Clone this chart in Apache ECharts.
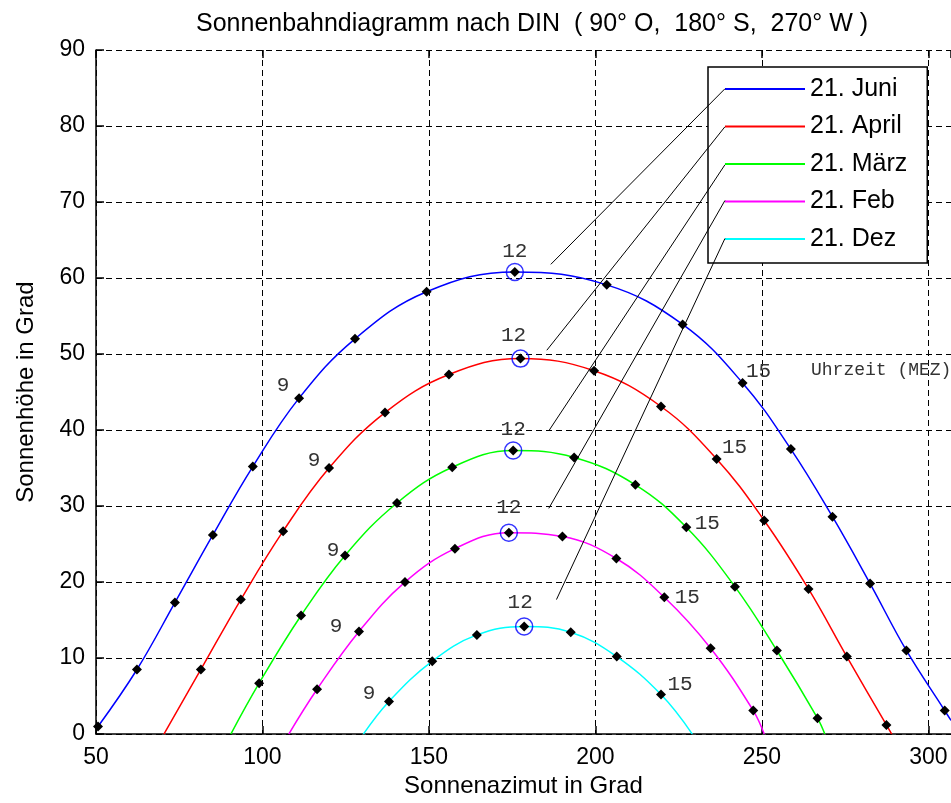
<!DOCTYPE html>
<html>
<head>
<meta charset="utf-8">
<title>Sonnenbahndiagramm</title>
<script src="https://cdn.jsdelivr.net/npm/echarts@6/dist/echarts.min.js"></script>
<style>
  html, body { margin: 0; padding: 0; background: #fff; }
  #chart { width: 951px; height: 803px; }
</style>
</head>
<body>
<div id="chart"></div>
<script>
// Stunde (MEZ) je Punkt; null = Auf-/Untergang bzw. Bildrand, ohne Marker
var juniHour  = [4, 5, 6, 7, 8, 9, 10, 11, 12, 13, 14, 15, 16, 17, 18, 19, 20, null];
var juniAz    = [50.6, 62.3, 73.7, 85.1, 97.1, 111.0, 127.8, 149.3, 175.8, 203.4, 226.2, 244.2, 258.7, 271.2, 282.5, 293.4, 304.9, 306.8];
var juniAlt   = [1.0, 8.5, 17.3, 26.2, 35.2, 44.2, 52.0, 58.2, 60.8, 59.1, 53.9, 46.2, 37.5, 28.6, 19.8, 11.0, 3.1, 1.8];

var aprilHour = [null, 6, 7, 8, 9, 10, 11, 12, 13, 14, 15, 16, 17, 18, 19, null];
var aprilAz   = [70.4, 81.5, 93.5, 106.2, 120.0, 136.8, 156.0, 177.5, 199.6, 219.7, 236.4, 250.7, 264.0, 275.5, 287.4, 289.0];
var aprilAlt  = [0, 8.5, 17.7, 26.7, 35.0, 42.3, 47.3, 49.4, 47.8, 43.1, 36.2, 28.1, 19.1, 10.2, 1.2, 0];

var maerzHour = [null, 7, 8, 9, 10, 11, 12, 13, 14, 15, 16, 17, 18, null];
var maerzAz   = [90.5, 99.0, 111.6, 124.8, 140.4, 157.0, 175.3, 193.6, 212.0, 227.3, 241.9, 254.5, 266.7, 268.9];
var maerzAlt  = [0, 6.7, 15.6, 23.5, 30.4, 35.1, 37.3, 36.4, 32.8, 27.2, 19.4, 11.0, 2.1, 0];

var febHour   = [null, 8, 9, 10, 11, 12, 13, 14, 15, 16, 17, null];
var febAz     = [107.9, 116.4, 129.0, 142.8, 157.8, 174.0, 190.1, 206.3, 220.7, 234.6, 247.4, 250.7];
var febAlt    = [0, 5.9, 13.5, 20.0, 24.4, 26.5, 26.0, 23.1, 18.0, 11.3, 3.1, 0];

var dezHour   = [null, 9, 10, 11, 12, 13, 14, 15, null];
var dezAz     = [130.3, 138.0, 151.0, 164.4, 178.6, 192.6, 206.4, 219.7, 229.1];
var dezAlt    = [0, 4.3, 9.6, 13.05, 14.15, 13.4, 10.2, 5.2, 0];

// Hinweislinien von der Legende zu den Kurven (Azimut, Höhe)
var leaderFrom = [[238.9, 84.9], [238.9, 79.9], [238.9, 74.9], [238.9, 70.2], [238.9, 65.2]];
var leaderTo   = [[186.6, 61.8], [185.4, 50.5], [186.0, 39.9], [186.0, 29.7], [188.3, 17.7]];

var xTicks = [50, 100, 150, 200, 250, 300];
var yTicks = [0, 10, 20, 30, 40, 50, 60, 70, 80, 90];
var labelHours = [9, 12, 15];

var curves = [
  { name: '21. Juni',  color: '#0000ff', az: juniAz,  alt: juniAlt,  hour: juniHour,  off: { 9: [-16, -13], 12: [0, -21], 15: [16, -11] } },
  { name: '21. April', color: '#ff0000', az: aprilAz, alt: aprilAlt, hour: aprilHour, off: { 9: [-15, -8],  12: [-7, -23], 15: [18, -12] } },
  { name: '21. März',  color: '#00ff00', az: maerzAz, alt: maerzAlt, hour: maerzHour, off: { 9: [-12, -5],  12: [0, -21], 15: [21, -4] } },
  { name: '21. Feb',   color: '#ff00ff', az: febAz,   alt: febAlt,   hour: febHour,   off: { 9: [-23, -5],  12: [0, -25], 15: [23, 0] } },
  { name: '21. Dez',   color: '#00ffff', az: dezAz,   alt: dezAlt,   hour: dezHour,   off: { 9: [-20, -8],  12: [-4, -24], 15: [19, -10] } }
];

var hourFont = { fontFamily: 'Liberation Mono', fontSize: 21, color: '#333' };

var series = [];
var noon = [];
curves.forEach(function (c) {
  var data = c.az.map(function (x, i) {
    var h = c.hour[i];
    var item = { value: [x, c.alt[i]] };
    if (h === null) item.symbol = 'none';
    if (labelHours.indexOf(h) >= 0) {
      item.label = {
        show: true, position: 'inside', offset: c.off[h], formatter: String(h),
        fontFamily: hourFont.fontFamily, fontSize: hourFont.fontSize, color: hourFont.color,
        textBorderWidth: 0
      };
    }
    if (h === 12) noon.push([x, c.alt[i]]);
    return item;
  });
  series.push({
    name: c.name,
    type: 'line',
    data: data,
    smooth: 0.4,
    symbol: 'diamond',
    symbolSize: 10,
    showAllSymbol: true,
    lineStyle: { color: c.color, width: 1.5 },
    itemStyle: { color: '#000' },
    label: { show: false },
    z: 3,
    emphasis: { disabled: true },
    silent: true
  });
});

series.push({
  name: 'noon',
  type: 'scatter',
  data: noon,
  symbol: 'circle',
  symbolSize: 17,
  itemStyle: { color: 'rgba(0,0,0,0)', borderColor: '#0000ff', borderWidth: 1.5 },
  z: 4,
  silent: true
});

leaderFrom.forEach(function (p, i) {
  series.push({
    name: 'leader' + i,
    type: 'line',
    data: [p, leaderTo[i]],
    symbol: 'none',
    lineStyle: { color: '#000', width: 1 },
    z: 10,
    silent: true
  });
});

var chart = echarts.init(document.getElementById('chart'));
chart.setOption({
  animation: false,
  backgroundColor: '#fff',
  textStyle: { fontFamily: 'Liberation Sans, Arial, sans-serif' },
  title: {
    text: 'Sonnenbahndiagramm nach DIN  ( 90° O,  180° S,  270° W )',
    left: 527,
    textAlign: 'center',
    top: 7,
    textStyle: { fontSize: 25, fontWeight: 'normal', color: '#000' }
  },
  grid: { left: 96, right: 0, top: 50, bottom: 68 },
  legend: {
    data: curves.map(function (c) { return { name: c.name, itemStyle: { color: c.color } }; }),
    orient: 'vertical',
    left: 708,
    top: 67,
    padding: [9, 20, 11, 17],
    itemGap: 11.5,
    itemWidth: 80,
    itemHeight: 2,
    icon: 'rect',
    backgroundColor: '#fff',
    borderColor: '#000',
    borderWidth: 1.5,
    borderRadius: 0,
    selectedMode: false,
    textStyle: { fontSize: 25, color: '#000', lineHeight: 26 }
  },
  graphic: [{
    type: 'text',
    left: 811,
    top: 361,
    style: { text: 'Uhrzeit (MEZ)', fontFamily: 'Liberation Mono', fontSize: 18, fill: '#333' },
    z: 5
  }],
  xAxis: [{
    type: 'value',
    min: xTicks[0],
    max: 306.8,
    interval: 50,
    name: 'Sonnenazimut in Grad',
    nameLocation: 'middle',
    nameGap: 38,
    nameTextStyle: { fontSize: 24, color: '#000' },
    axisLine: { show: true, lineStyle: { color: '#000', width: 1.5 } },
    axisTick: { show: true, inside: true, length: 8, lineStyle: { color: '#000', width: 1.5 } },
    axisLabel: { fontSize: 23, color: '#000', margin: 12, showMaxLabel: false },
    splitLine: { show: true, lineStyle: { color: '#000', width: 1, type: [6, 4] } }
  }, {
    type: 'value',
    position: 'top',
    min: xTicks[0],
    max: 306.8,
    interval: 50,
    axisLine: { show: false },
    axisTick: { show: true, inside: true, length: 8, lineStyle: { color: '#000', width: 1.5 } },
    axisLabel: { show: false },
    splitLine: { show: false }
  }],
  yAxis: {
    type: 'value',
    min: yTicks[0],
    max: yTicks[yTicks.length - 1],
    interval: 10,
    name: 'Sonnenhöhe in Grad',
    nameLocation: 'middle',
    nameGap: 58,
    nameTextStyle: { fontSize: 24, color: '#000' },
    axisLine: { show: true, lineStyle: { color: '#000', width: 1.5 } },
    axisTick: { show: true, inside: true, length: 8, lineStyle: { color: '#000', width: 1.5 } },
    axisLabel: { fontSize: 23, color: '#000', margin: 11 },
    splitLine: { show: true, lineStyle: { color: '#000', width: 1, type: [6, 4] } }
  },
  series: series
});
</script>
</body>
</html>
